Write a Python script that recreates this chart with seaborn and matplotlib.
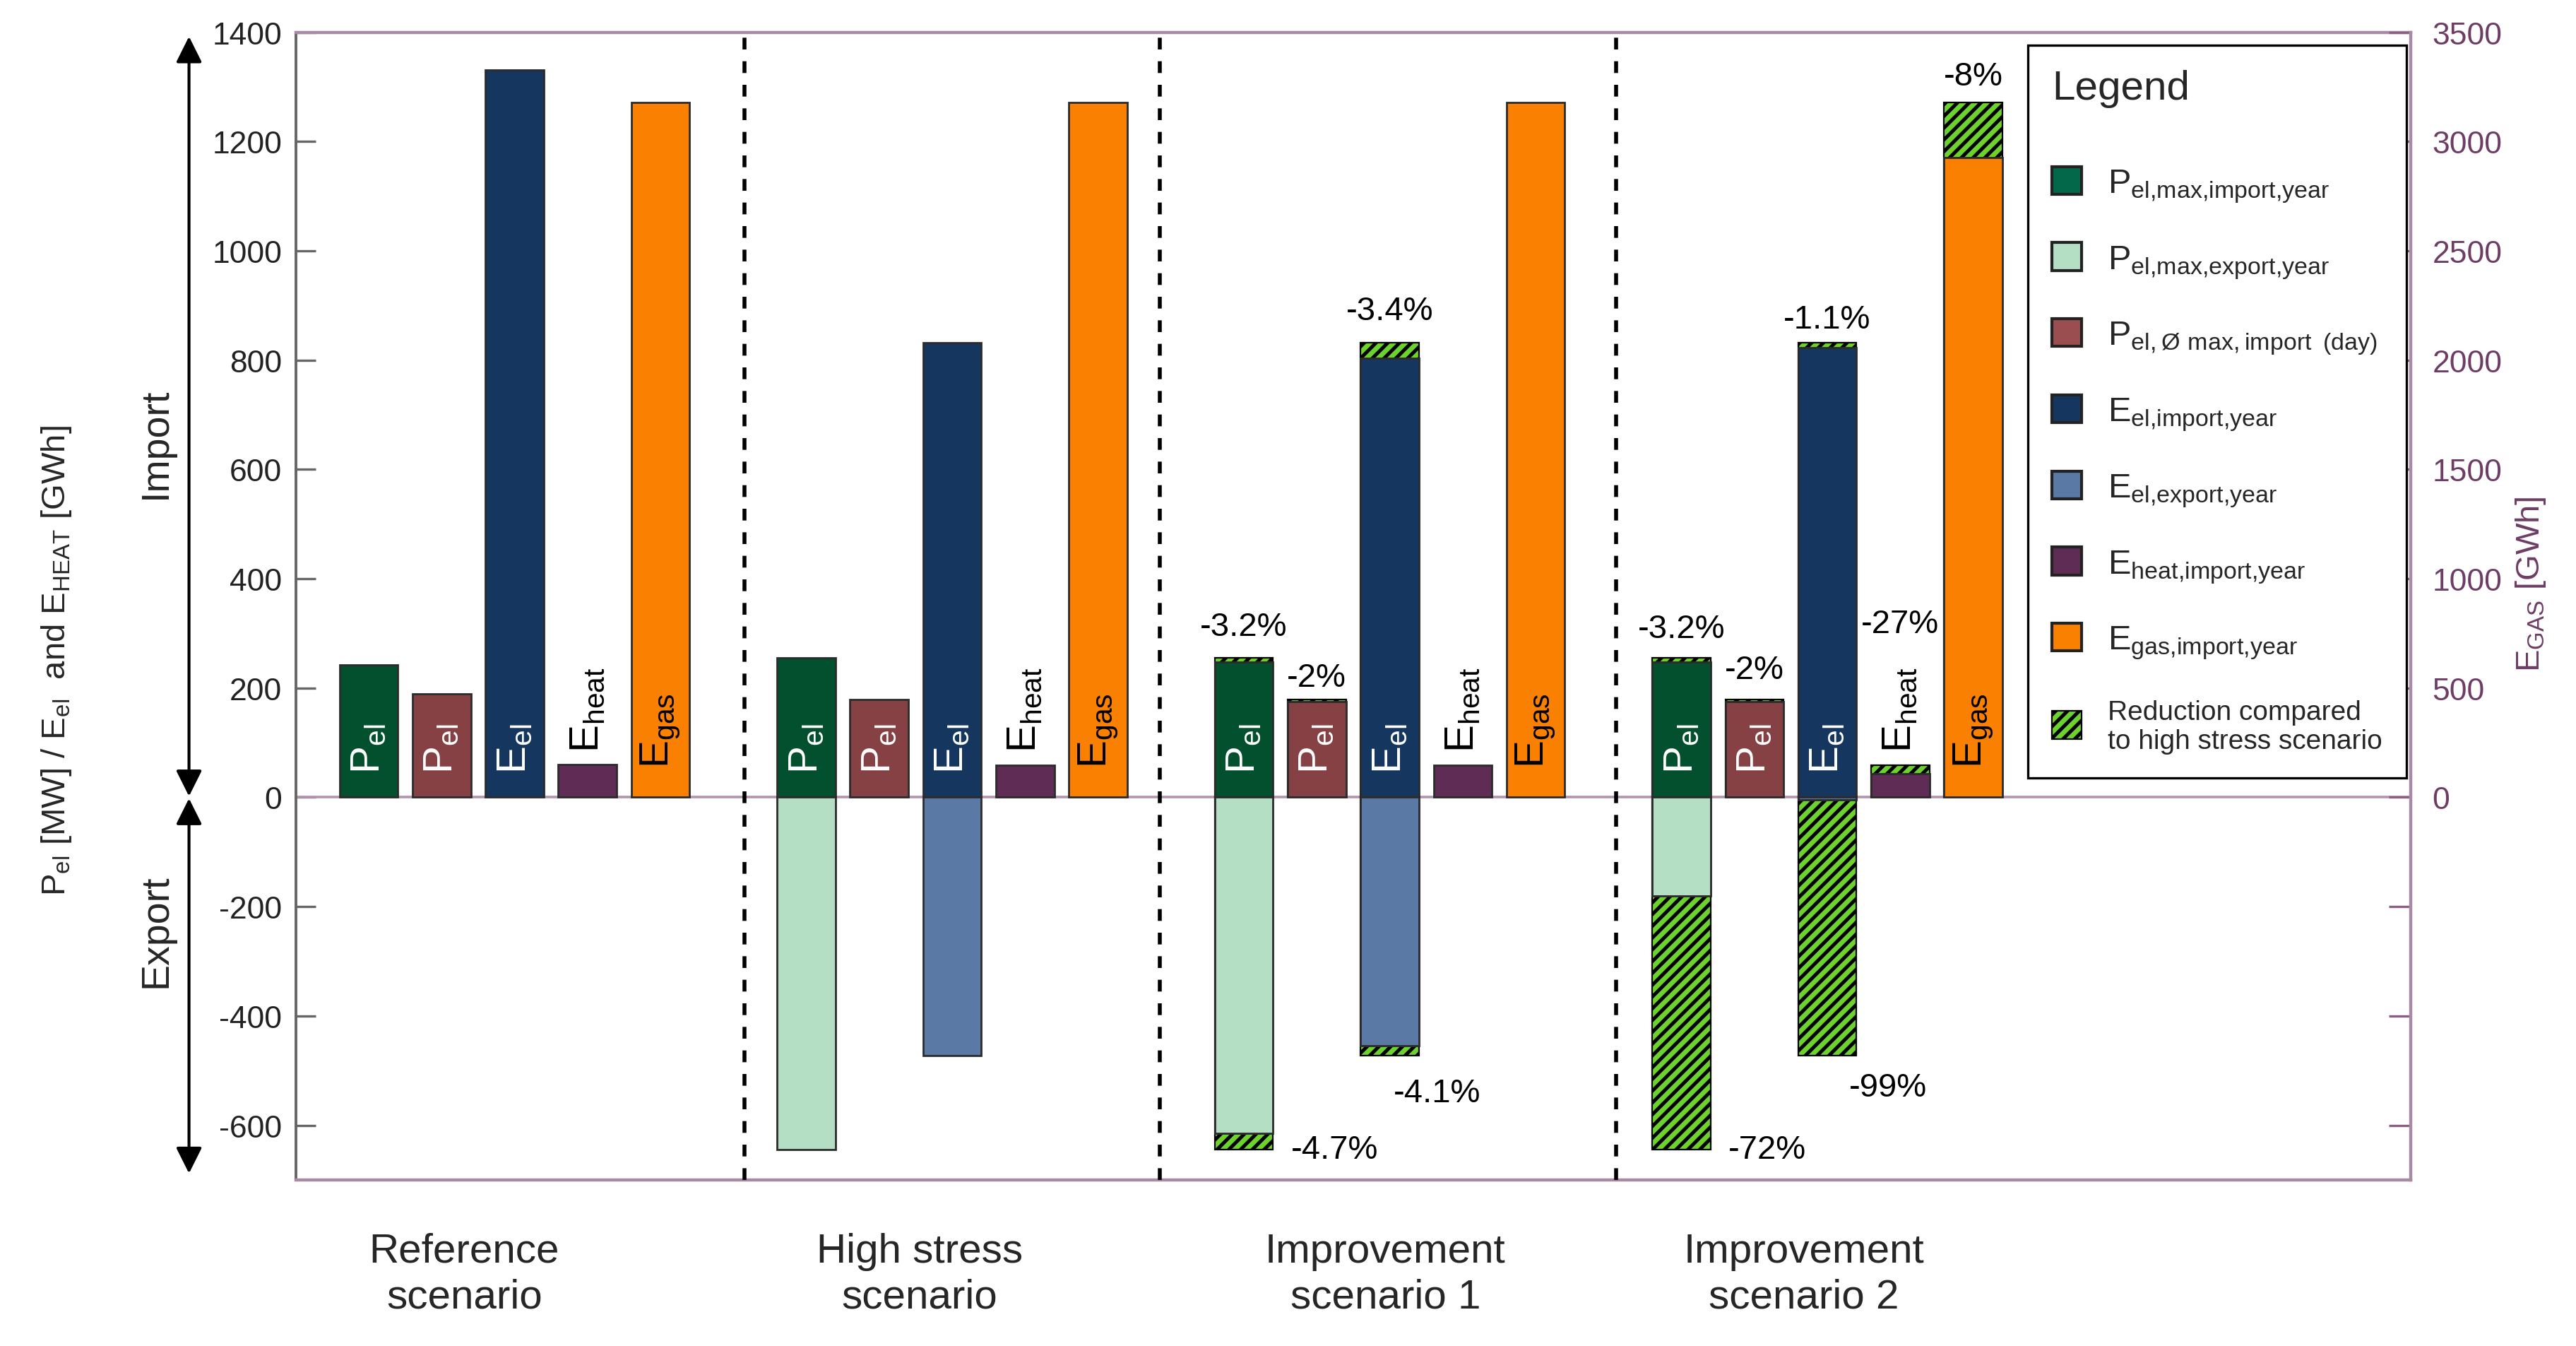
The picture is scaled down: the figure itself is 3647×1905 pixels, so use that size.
import numpy as np
import pandas as pd
import matplotlib
matplotlib.use("Agg")
import matplotlib.pyplot as plt
import seaborn as sns
from matplotlib.patches import Patch
from matplotlib.transforms import blended_transform_factory
from matplotlib.ticker import FixedLocator, FuncFormatter

# ---------------- data ----------------
scenarios = ["Reference\nscenario", "High stress\nscenario",
             "Improvement\nscenario 1", "Improvement\nscenario 2"]
compare_to_high_stress = [False, False, True, True]
high_stress_index = 1

series_keys = ["pel_imp", "pel_exp", "pel_day", "eel_imp", "eel_exp", "eheat", "egas"]
legend_labels = [
    r"P$_{el{,}max{,}import{,}year}$",
    r"P$_{el{,}max{,}export{,}year}$",
    r"P$_{el,Ø\ max,import\,\ (day)}$",
    r"E$_{el{,}import{,}year}$",
    r"E$_{el{,}export{,}year}$",
    r"E$_{heat{,}import{,}year}$",
    r"E$_{gas{,}import{,}year}$",
]
reduction_label = "Reduction compared\nto high stress scenario"

# values (MW / GWh on left axis, GWh on right axis for gas)
pel_max_import = [243, 255, 247, 247]
pel_max_export = [0, -645, -615, -180]
pel_day_import = [189, 179, 175, 175]
e_el_import = [1331, 832, 804, 823]
e_el_export = [0, -473, -454, -5]
e_heat_import = [60, 59, 59, 43]
e_gas_import = [3180, 3180, 3180, 2925]

# reduction labels: (scenario index, series, text)
reduction_texts = [
    (2, "pel_imp", "-3.2%"), (2, "pel_day", "-2%"), (2, "eel_imp", "-3.4%"),
    (2, "pel_exp", "-4.7%"), (2, "eel_exp", "-4.1%"),
    (3, "pel_imp", "-3.2%"), (3, "pel_day", "-2%"), (3, "eel_imp", "-1.1%"),
    (3, "eheat", "-27%"), (3, "egas", "-8%"),
    (3, "pel_exp", "-72%"), (3, "eel_exp", "-99%"),
]

values = {
    "pel_imp": pel_max_import, "pel_exp": pel_max_export, "pel_day": pel_day_import,
    "eel_imp": e_el_import, "eel_exp": e_el_export, "eheat": e_heat_import,
    "egas": e_gas_import,
}

# ---------------- style ----------------
colors = {
    "pel_imp": "#03502f", "pel_exp": "#b4dfc5", "pel_day": "#864145",
    "eel_imp": "#15375f", "eel_exp": "#5a79a5", "eheat": "#5e2c55",
    "egas": "#f98000",
}
legend_colors = dict(colors, pel_imp="#03684a", pel_day="#9a4e50")
hatch_green = "#6dd12e"
slot = {"pel_imp": 0, "pel_exp": 0, "pel_day": 1, "eel_imp": 2, "eel_exp": 2,
        "eheat": 3, "egas": 4}
group_step = 6
bar_width = 0.8

sns.set_style("ticks")
plt.rcParams["font.family"] = ["Liberation Sans", "DejaVu Sans"]
plt.rcParams["mathtext.default"] = "regular"
plt.rcParams["hatch.linewidth"] = 1.8
plt.rcParams["axes.unicode_minus"] = False

def xpos(g, key):
    return group_step * g + slot[key] - 2

# main bars (left axis)
rows = []
for key in series_keys:
    if key == "egas":
        continue
    for g, v in enumerate(values[key]):
        if v != 0:
            rows.append(dict(x=xpos(g, key), value=v, series=key))
df_main = pd.DataFrame(rows)

# hatched reduction bars (drawn full to high stress level, covered by actual bars)
hrows = []
for key in series_keys:
    if key == "egas":
        continue
    hs = values[key][high_stress_index]
    for g, v in enumerate(values[key]):
        if compare_to_high_stress[g] and v != hs and hs != 0:
            hrows.append(dict(x=xpos(g, key), value=hs, series=key))
df_hatch = pd.DataFrame(hrows)

df_gas = pd.DataFrame(dict(x=[xpos(g, "egas") for g in range(4)], value=e_gas_import,
                           series="egas"))
hs_gas = e_gas_import[high_stress_index]
df_gas_hatch = pd.DataFrame([dict(x=xpos(g, "egas"), value=hs_gas, series="egas")
                             for g, v in enumerate(e_gas_import)
                             if compare_to_high_stress[g] and v != hs_gas])

def native_width(d):
    u = np.unique(d["x"])
    return np.min(np.diff(u)) if len(u) > 1 else 1

fig = plt.figure(figsize=(18.24, 9.53), dpi=200)
ax = fig.add_axes([0.1148, 0.1233, 0.8208, 0.8523])
ax2 = ax.twinx()

edge = "#2b2b2b"
sns.barplot(data=df_hatch, x="x", y="value", hue="series", native_scale=True,
            orient="x", dodge=False, palette={k: hatch_green for k in series_keys},
            saturation=1, errorbar=None, legend=False, width=bar_width / native_width(df_hatch),
            hatch="////", edgecolor="black", linewidth=0.8, ax=ax, zorder=2)
sns.barplot(data=df_main, x="x", y="value", hue="series", native_scale=True,
            orient="x", dodge=False, palette=colors, saturation=1, errorbar=None,
            legend=False, width=bar_width / native_width(df_main),
            edgecolor=edge, linewidth=1.0, ax=ax, zorder=3)
sns.barplot(data=df_gas_hatch, x="x", y="value", hue="series", native_scale=True,
            orient="x", dodge=False, palette={"egas": hatch_green}, saturation=1,
            errorbar=None, legend=False, width=bar_width / native_width(df_gas_hatch),
            hatch="////", edgecolor="black", linewidth=0.8, ax=ax2, zorder=2)
sns.barplot(data=df_gas, x="x", y="value", hue="series", native_scale=True,
            orient="x", dodge=False, palette=colors, saturation=1, errorbar=None,
            legend=False, width=bar_width / native_width(df_gas),
            edgecolor=edge, linewidth=1.0, ax=ax2, zorder=3)

# axes limits
ax.set_xlim(-3, 26)
ax.set_ylim(-700, 1400)
ax2.set_ylim(-1750, 3500)
ax.set_xlabel("")
ax.set_ylabel("")
ax2.set_xlabel("")
ax2.set_ylabel("")
ax.set_xticks([])

# zero line and separators
ax.axhline(0, color="#b394ad", lw=1.3, zorder=1)
for xs in [3.15, 8.85, 15.1]:
    ax.axvline(xs, color="black", lw=2.0, ls=(0, (3, 3)), zorder=4)

# spines
for s in ["top", "bottom"]:
    ax.spines[s].set_color("#a98aa4")
    ax.spines[s].set_linewidth(1.6)
ax.spines["left"].set_color("#666666")
ax.spines["left"].set_linewidth(1.4)
ax.spines["right"].set_visible(False)
for s in ["top", "bottom", "left"]:
    ax2.spines[s].set_visible(False)
ax2.spines["right"].set_color("#a98aa4")
ax2.spines["right"].set_linewidth(1.6)

ax.set_yticks(np.arange(-600, 1401, 200))
ax.tick_params(axis="y", direction="in", length=10, width=1.2, color="#666666",
               labelsize=16, labelcolor="#222222", pad=7)
ax2.yaxis.set_major_locator(FixedLocator(np.arange(-1500, 3501, 500)))
ax2.yaxis.set_major_formatter(FuncFormatter(lambda v, p: f"{int(v)}" if v >= 0 else ""))
ax2.tick_params(axis="y", direction="in", length=11, width=1.2, color="#8a5f84",
                labelsize=16, labelcolor="#6e3d66", pad=11)

# in-bar labels (drawn on the top axes so nothing hides them)
bar_texts = {"pel_imp": (r"P$_{el}$", "white", 45), "pel_day": (r"P$_{el}$", "white", 45),
             "eel_imp": (r"E$_{el}$", "white", 44), "eheat": (r"E$_{heat}$", "black", 83),
             "egas": (r"E$_{gas}$", "black", 55)}
for g in range(len(scenarios)):
    for key, (txt, col, ystart) in bar_texts.items():
        ax2.text(xpos(g, key), ystart, txt, transform=ax.transData, rotation=90,
                 rotation_mode="anchor", ha="left", va="center", color=col,
                 fontsize=21, zorder=6)

# reduction percentages
lab_offsets = {  # (dx pt, dy pt, ha)
    (2, "pel_imp"): (0, 16, "center"), (2, "pel_day"): (0, 11, "center"),
    (2, "eel_imp"): (0, 16, "center"), (2, "pel_exp"): (24, 0, "left"),
    (2, "eel_exp"): (2, -19, "left"),
    (3, "pel_imp"): (0, 15, "center"), (3, "pel_day"): (0, 15, "center"),
    (3, "eel_imp"): (0, 12, "center"), (3, "eheat"): (0, 72, "center"),
    (3, "egas"): (0, 13, "center"), (3, "pel_exp"): (24, 0, "left"),
    (3, "eel_exp"): (11, -16, "left"),
}
for g, key, txt in reduction_texts:
    hs = values[key][high_stress_index]
    dx, dy, ha = lab_offsets[(g, key)]
    target = ax2 if key == "egas" else ax
    target.annotate(txt, xy=(xpos(g, key), hs), xytext=(dx, dy), textcoords="offset points",
                    ha=ha, va="center", fontsize=17, color="black", annotation_clip=False,
                    zorder=7)

# group labels
trans = blended_transform_factory(ax.transData, ax.transAxes)
group_label_x = [-0.69, 5.55, 11.94, 17.68]
for gx, name in zip(group_label_x, scenarios):
    ax.text(gx, -0.082, name, transform=trans, ha="center", va="center",
            fontsize=21, linespacing=1.25)

# import / export arrows and labels
tr2 = blended_transform_factory(ax.transAxes, ax.transData)
ap = dict(arrowstyle="<|-|>", color="black", lw=1.5, mutation_scale=28, shrinkA=0, shrinkB=0)
ax.annotate("", xy=(-0.0505, 1392), xytext=(-0.0505, 2), xycoords=tr2, textcoords=tr2,
            arrowprops=ap, annotation_clip=False)
ax.annotate("", xy=(-0.0505, -688), xytext=(-0.0505, -2), xycoords=tr2, textcoords=tr2,
            arrowprops=ap, annotation_clip=False)
ax.text(-0.066, 649, "Import", transform=tr2, rotation=90, ha="center", va="center",
        fontsize=20)
ax.text(-0.066, -243, "Export", transform=tr2, rotation=90, ha="center", va="center",
        fontsize=20)

ax.text(-0.113, 0.453, r"P$_{el}$ [MW] / E$_{el}$  and E$_{HEAT}$ [GWh]",
        transform=ax.transAxes, rotation=90, ha="center", va="center", fontsize=17)
ax.text(1.0567, 0.52, r"E$_{GAS}$ [GWh]", transform=ax.transAxes, rotation=90,
        ha="center", va="center", fontsize=17, color="#6e3d66")

# legend
handles = [Patch(facecolor=legend_colors[k], edgecolor="#222222", linewidth=1.5)
           for k in series_keys]
handles.append(Patch(facecolor=hatch_green, edgecolor="black", hatch="////", linewidth=0.8))
leg = ax2.legend(handles, legend_labels + [reduction_label], title="Legend",
                 loc="upper left", bbox_to_anchor=(0.819, 0.9885), borderaxespad=0,
                 fontsize=17.5, title_fontsize=21, alignment="left", frameon=True,
                 fancybox=False, edgecolor="black", framealpha=1, handlelength=0.87,
                 handleheight=0.87, handletextpad=0.75, labelspacing=1.12, borderpad=0.7)
leg.get_frame().set_linewidth(1.2)
leg.get_texts()[-1].set_fontsize(14)
leg._legend_box.sep = 30
leg.set_zorder(10)

fig.savefig("out.png", dpi=200)
